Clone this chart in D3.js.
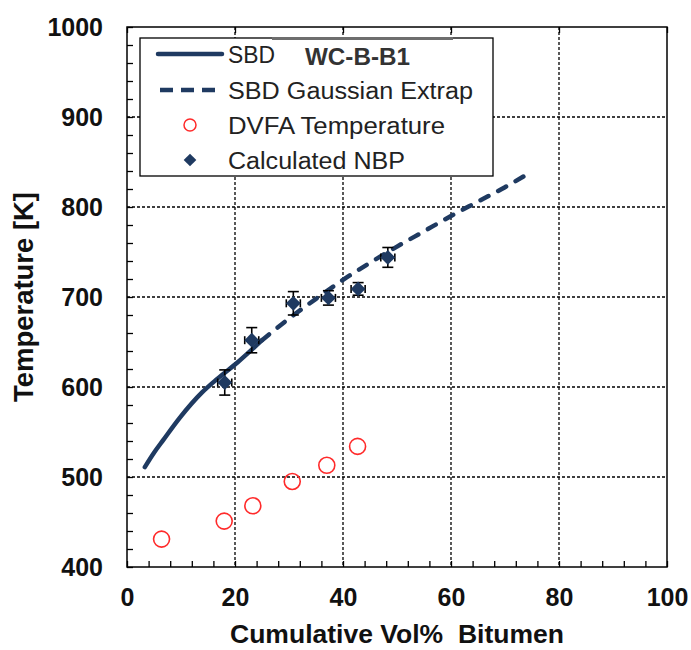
<!DOCTYPE html>
<html>
<head>
<meta charset="utf-8">
<script src="https://cdn.jsdelivr.net/npm/d3@7"></script>
<style>
  html, body { margin: 0; padding: 0; background: #fff; }
  svg { display: block; font-family: "Liberation Sans", Arial, sans-serif; }
</style>
</head>
<body>
<svg id="chart" width="691" height="650"></svg>
<script>
// Simulated boiling distribution (solid) and its Gaussian extrapolation (dashed)
const sbdX = [3.3, 5, 6.7, 9.8, 13.9, 16.7, 20.4, 25];
const sbdT = [511, 527, 541, 566, 594, 609, 627, 652];
const extX = [25, 30, 35, 40, 45, 50, 55, 60, 65, 70, 74.3];
const extT = [652, 676, 698, 719, 738, 756, 773, 790, 806, 822, 837];

// DVFA temperatures
const dvfaX = [6.4, 18.0, 23.3, 30.6, 37.0, 42.7];
const dvfaT = [431, 451, 468, 495, 513, 534];

// Calculated normal boiling points with uncertainties
const nbpX = [18.1, 23.1, 30.8, 37.3, 42.8, 48.3];
const nbpT = [605, 652, 693, 699, 709, 744];
const nbpErrT = [14, 14, 13, 8, 7, 11];
const nbpErrX = [1.3, 1.3, 1.3, 1.3, 1.3, 1.3];

const xTicks = [0, 20, 40, 60, 80, 100];
const yTicks = [400, 500, 600, 700, 800, 900, 1000];
const legendLabels = ["SBD", "SBD Gaussian Extrap", "DVFA Temperature", "Calculated NBP"];
const sampleName = "WC-B-B1";

const navy = "#1f3a61";
const red = "#ff2a2a";

const svg = d3.select("#chart");
const x = d3.scaleLinear().domain([0, 100]).range([127, 667]);
const y = d3.scaleLinear().domain([400, 1000]).range([567, 27]);

// grid
const grid = svg.append("g").attr("stroke", "#000").attr("stroke-width", 1.3)
  .attr("stroke-dasharray", "3,2");
grid.selectAll("line.v").data(xTicks.slice(1, -1)).join("line")
  .attr("x1", d => x(d)).attr("x2", d => x(d))
  .attr("y1", y(1000)).attr("y2", y(400));
grid.selectAll("line.h").data(yTicks.slice(1, -1)).join("line")
  .attr("x1", x(0)).attr("x2", x(100))
  .attr("y1", d => y(d)).attr("y2", d => y(d));

// minor inward ticks
const minorB = svg.append("g").attr("transform", `translate(0,${y(400)})`)
  .call(d3.axisBottom(x).tickValues(d3.range(0, 101, 4)).tickSize(-6).tickFormat(""));
const minorL = svg.append("g").attr("transform", `translate(${x(0)},0)`)
  .call(d3.axisLeft(y).tickValues(d3.range(400, 1001, 20)).tickSize(-6).tickFormat(""));
const majorT = svg.append("g").attr("transform", `translate(0,${y(1000)})`)
  .call(d3.axisTop(x).tickValues(xTicks).tickSize(-6).tickFormat(""));
[minorB, minorL, majorT].forEach(g => {
  g.select(".domain").remove();
  g.selectAll("line").attr("stroke", "#000").attr("stroke-width", 1.3);
});

// tick labels
const xLab = svg.append("g").attr("transform", `translate(0,${y(400)})`)
  .call(d3.axisBottom(x).tickValues(xTicks).tickSize(0).tickPadding(21).tickFormat(d3.format("d")));
const yLab = svg.append("g").attr("transform", `translate(${x(0)},0)`)
  .call(d3.axisLeft(y).tickValues(yTicks).tickSize(0).tickPadding(24).tickFormat(d3.format("d")));
[xLab, yLab].forEach(g => {
  g.select(".domain").remove();
  g.selectAll("text").attr("font-size", 25).attr("font-weight", "bold")
    .attr("fill", "#111").attr("font-family", "Liberation Sans, Arial, sans-serif");
});

// frame
svg.append("rect").attr("x", x(0)).attr("y", y(1000))
  .attr("width", x(100) - x(0)).attr("height", y(400) - y(1000))
  .attr("fill", "none").attr("stroke", "#000").attr("stroke-width", 1.5);

// axis titles
svg.append("text").attr("x", (x(0) + x(100)) / 2).attr("y", 643)
  .attr("text-anchor", "middle").attr("font-size", 25).attr("font-weight", "bold")
  .attr("fill", "#111").attr("textLength", 334).attr("lengthAdjust", "spacingAndGlyphs")
  .text("Cumulative Vol%\u00a0\u00a0Bitumen");
svg.append("text").attr("transform", "translate(33,297) rotate(-90)")
  .attr("text-anchor", "middle").attr("font-size", 27).attr("font-weight", "bold")
  .attr("fill", "#111").attr("textLength", 210).attr("lengthAdjust", "spacingAndGlyphs")
  .text("Temperature [K]");

// legend box
const lg = svg.append("g");
lg.append("rect").attr("x", 140).attr("y", 38).attr("width", 353).attr("height", 138)
  .attr("fill", "#fff").attr("stroke", "#000").attr("stroke-width", 1.3);
lg.append("line").attr("x1", 272).attr("x2", 453).attr("y1", 38.5).attr("y2", 38.5)
  .attr("stroke", "#6e6e6e").attr("stroke-width", 3);

const rowY = [54, 90, 125, 160];
lg.append("line").attr("x1", 158).attr("x2", 222).attr("y1", rowY[0]).attr("y2", rowY[0])
  .attr("stroke", navy).attr("stroke-width", 4.5).attr("stroke-linecap", "round");
lg.append("line").attr("x1", 160).attr("x2", 222).attr("y1", rowY[1]).attr("y2", rowY[1])
  .attr("stroke", navy).attr("stroke-width", 4.5).attr("stroke-dasharray", "13,8");
lg.append("circle").attr("cx", 190).attr("cy", rowY[2]).attr("r", 6)
  .attr("fill", "none").attr("stroke", red).attr("stroke-width", 1.5);
lg.append("path").attr("transform", `translate(190,${rowY[3]}) rotate(45)`)
  .attr("d", d3.symbol(d3.symbolSquare, 80)()).attr("fill", navy);

const legendWidths = [47, 245, 217, 177];
lg.selectAll("text.lab").data(legendLabels).join("text")
  .attr("x", 228).attr("y", (d, i) => rowY[i] + 8.5)
  .attr("font-size", 23).attr("fill", "#222")
  .attr("textLength", (d, i) => legendWidths[i]).attr("lengthAdjust", "spacingAndGlyphs")
  .text(d => d);

lg.append("text").attr("x", 305).attr("y", 65).attr("font-size", 24)
  .attr("font-weight", "bold").attr("fill", "#333")
  .attr("textLength", 105).attr("lengthAdjust", "spacingAndGlyphs").text(sampleName);

// SBD curves
const line = d3.line().x(d => x(d[0])).y(d => y(d[1])).curve(d3.curveMonotoneX);
svg.append("path").datum(d3.zip(sbdX, sbdT)).attr("d", line)
  .attr("fill", "none").attr("stroke", navy).attr("stroke-width", 4.5)
  .attr("stroke-linecap", "round").attr("stroke-linejoin", "round");
svg.append("path").datum(d3.zip(extX, extT)).attr("d", line)
  .attr("fill", "none").attr("stroke", navy).attr("stroke-width", 4.5)
  .attr("stroke-linecap", "round").attr("stroke-dasharray", "9,11");

// DVFA circles
svg.append("g").selectAll("circle").data(d3.zip(dvfaX, dvfaT)).join("circle")
  .attr("cx", d => x(d[0])).attr("cy", d => y(d[1])).attr("r", 8)
  .attr("fill", "none").attr("stroke", red).attr("stroke-width", 1.6);

// NBP error bars and markers
const nbp = nbpX.map((v, i) => ({ x: v, t: nbpT[i], et: nbpErrT[i], ex: nbpErrX[i] }));
const eb = svg.append("g").attr("stroke", "#000").attr("stroke-width", 1.6);
nbp.forEach(d => {
  const cx = x(d.x), cy = y(d.t);
  const y0 = y(d.t - d.et), y1 = y(d.t + d.et);
  const x0 = x(d.x - d.ex), x1 = x(d.x + d.ex);
  eb.append("line").attr("x1", cx).attr("x2", cx).attr("y1", y0).attr("y2", y1);
  eb.append("line").attr("x1", cx - 5.5).attr("x2", cx + 5.5).attr("y1", y0).attr("y2", y0);
  eb.append("line").attr("x1", cx - 5.5).attr("x2", cx + 5.5).attr("y1", y1).attr("y2", y1);
  eb.append("line").attr("x1", x0).attr("x2", x1).attr("y1", cy).attr("y2", cy);
  eb.append("line").attr("x1", x0).attr("x2", x0).attr("y1", cy - 4).attr("y2", cy + 4);
  eb.append("line").attr("x1", x1).attr("x2", x1).attr("y1", cy - 4).attr("y2", cy + 4);
});
svg.append("g").selectAll("path").data(nbp).join("path")
  .attr("transform", d => `translate(${x(d.x)},${y(d.t)}) rotate(45)`)
  .attr("d", d3.symbol(d3.symbolSquare, 110)()).attr("fill", navy);
</script>
</body>
</html>
